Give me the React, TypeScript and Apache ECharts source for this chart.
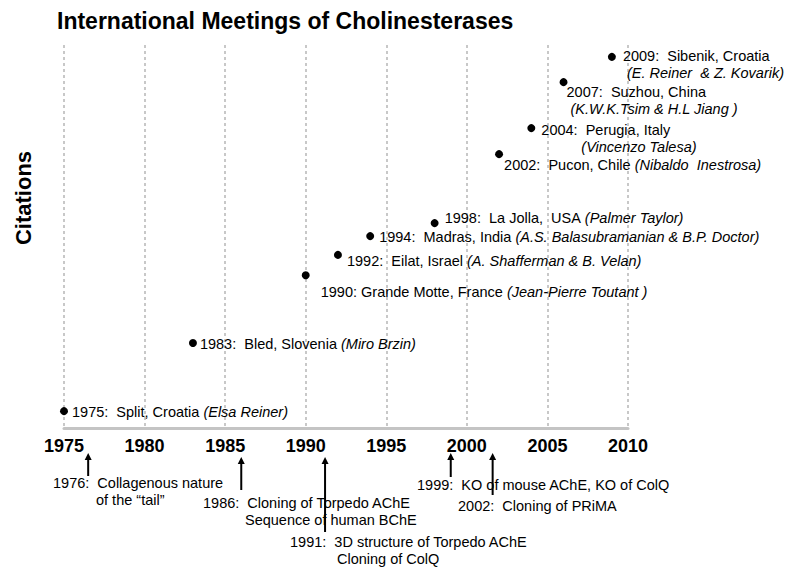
import React, { useEffect, useRef } from "react";
import * as echarts from "echarts";

// Meeting years (x) and relative citation level (y, arbitrary units 0-100)
const meetingYears = [1975, 1983, 1990, 1992, 1994, 1998, 2002, 2004, 2006, 2009];
const citationLevels = [4.4, 22.2, 39.9, 45.2, 50.1, 53.5, 71.5, 78.3, 90.3, 96.9];
const meetingPlaces = [
  "1975:  Split, Croatia ",
  "1983:  Bled, Slovenia ",
  "1990: Grande Motte, France ",
  "1992:  Eilat, Israel ",
  "1994:  Madras, India ",
  "1998:  La Jolla,  USA ",
  "2002:  Pucon, Chile ",
  "2004:  Perugia, Italy",
  "2007:  Suzhou, China",
  "2009:  Sibenik, Croatia",
];
const meetingOrganizers = [
  "(Elsa Reiner)",
  "(Miro Brzin)",
  "(Jean-Pierre Toutant )",
  "(A. Shafferman & B. Velan)",
  "(A.S. Balasubramanian & B.P. Doctor)",
  "(Palmer Taylor)",
  "(Nibaldo  Inestrosa)",
  "(Vincenzo Talesa)",
  "(K.W.K.Tsim & H.L Jiang )",
  "(E. Reiner  & Z. Kovarik)",
];

// Milestones shown under the axis
const milestoneYears = [1976.5, 1986, 1991.2, 1999, 2001.6];
const milestoneLines = [
  ["1976:  Collagenous nature", "of the \u201Ctail\u201D"],
  ["1986:  Cloning of Torpedo AChE", "Sequence of human BChE"],
  ["1991:  3D structure of Torpedo AChE", "Cloning of ColQ"],
  ["1999:  KO of mouse AChE, KO of ColQ"],
  ["2002:  Cloning of PRiMA"],
];

const xTicks = { min: 1975, max: 2010, interval: 5 };

// ---- layout / style (not data) ----
const FONT = "'Liberation Sans', Arial, Helvetica, sans-serif";
const labelLayout: { dx: number; dy: number; twoLine: boolean; indent: number }[] = [
  { dx: 4, dy: 1, twoLine: false, indent: 0 },
  { dx: 3, dy: 1, twoLine: false, indent: 0 },
  { dx: 11, dy: 17, twoLine: false, indent: 0 },
  { dx: 5, dy: 6, twoLine: false, indent: 0 },
  { dx: 5, dy: 1, twoLine: false, indent: 0 },
  { dx: 6, dy: -5, twoLine: false, indent: 0 },
  { dx: 1, dy: 11, twoLine: false, indent: 0 },
  { dx: 6, dy: 10.5, twoLine: true, indent: 40 },
  { dx: -1, dy: 18.5, twoLine: true, indent: 4 },
  { dx: 7, dy: 7.5, twoLine: true, indent: 4 },
];
const arrowLayout = [
  { top: 453, bottom: 476 },
  { top: 457, bottom: 490 },
  { top: 457, bottom: 532 },
  { top: 453, bottom: 477 },
  { top: 453, bottom: 495 },
];
const milestoneTextPos = [
  [53, 483],
  [203, 503],
  [290, 542],
  [417, 485],
  [458, 506],
];
const milestoneIndent = [43, 42, 47, 0, 0];

export default function App() {
  const ref = useRef<HTMLDivElement>(null);

  useEffect(() => {
    if (!ref.current) return;
    const chart = echarts.init(ref.current, null, { renderer: "svg" });

    const baseText = { fontSize: 14.5, fontFamily: FONT, color: "#000", lineHeight: 17 };

    const data = meetingYears.map((yr, i) => {
      const L = labelLayout[i];
      let fmt: string;
      if (L.twoLine) {
        fmt = `{a|${meetingPlaces[i]}}\n{c|${meetingOrganizers[i]}}`;
      } else {
        fmt = `{a|${meetingPlaces[i]}}{b|${meetingOrganizers[i]}}`;
      }
      return {
        value: [yr, citationLevels[i]],
        label: {
          show: true,
          position: "right",
          distance: 0,
          offset: [L.dx, L.dy],
          align: "left",
          verticalAlign: "middle",
          color: "#000",
          formatter: fmt,
          rich: {
            a: { ...baseText },
            b: { ...baseText, fontStyle: "italic" },
            c: { ...baseText, fontStyle: "italic", padding: [0, 0, 0, L.indent] },
          },
        },
      };
    });

    chart.setOption({
      animation: false,
      backgroundColor: "#fff",
      grid: { left: 64, right: 172, top: 45, bottom: 151, containLabel: false },
      xAxis: {
        type: "value",
        min: xTicks.min,
        max: xTicks.max,
        interval: xTicks.interval,
        axisLine: { show: true, lineStyle: { color: "#c4c4c4", width: 3 } },
        axisTick: { show: false },
        axisLabel: {
          color: "#000",
          fontSize: 18,
          fontWeight: "bold",
          fontFamily: FONT,
          margin: 9,
          formatter: (v: number) => String(v),
        },
        splitLine: {
          show: true,
          lineStyle: { color: "#c8c8c8", width: 2, type: [3, 3] },
        },
      },
      yAxis: {
        type: "value",
        min: 0,
        max: 100,
        show: false,
        splitLine: { show: false },
      },
      series: [
        {
          type: "scatter",
          symbol: "circle",
          symbolSize: 8,
          itemStyle: { color: "#000", opacity: 1 },
          data,
          z: 5,
        },
      ],
    });

    const graphics: any[] = [
      {
        type: "text",
        x: 57,
        y: 21,
        style: {
          text: "International Meetings of Cholinesterases",
          fontSize: 23,
          fontWeight: "bold",
          fontFamily: FONT,
          fill: "#000",
          verticalAlign: "middle",
          align: "left",
        },
      },
      {
        type: "text",
        x: 23,
        y: 198,
        rotation: Math.PI / 2,
        style: {
          text: "Citations",
          fontSize: 22,
          fontWeight: "bold",
          fontFamily: FONT,
          fill: "#000",
          align: "center",
          verticalAlign: "middle",
        },
      },
    ];

    milestoneYears.forEach((yr, i) => {
      const x = chart.convertToPixel({ xAxisIndex: 0 }, yr) as number;
      const A = arrowLayout[i];
      graphics.push({
        type: "line",
        shape: { x1: x, y1: A.top + 5, x2: x, y2: A.bottom },
        style: { stroke: "#000", lineWidth: 2 },
        z: 10,
      });
      graphics.push({
        type: "polygon",
        shape: { points: [[x, A.top], [x - 3.5, A.top + 7], [x + 3.5, A.top + 7]] },
        style: { fill: "#000" },
        z: 10,
      });
      const [tx, ty] = milestoneTextPos[i];
      milestoneLines[i].forEach((line, j) => {
        graphics.push({
          type: "text",
          x: tx + (j > 0 ? milestoneIndent[i] : 0),
          y: ty + j * 17,
          style: {
            text: line,
            fontSize: 14.5,
            fontFamily: FONT,
            fill: "#000",
            align: "left",
            verticalAlign: "middle",
          },
          z: 9,
        });
      });
    });

    chart.setOption({ graphic: graphics });

    return () => chart.dispose();
  }, []);

  return (
    <div
      ref={ref}
      style={{ position: "fixed", left: 0, top: 0, width: 800, height: 579, background: "#fff" }}
    />
  );
}
